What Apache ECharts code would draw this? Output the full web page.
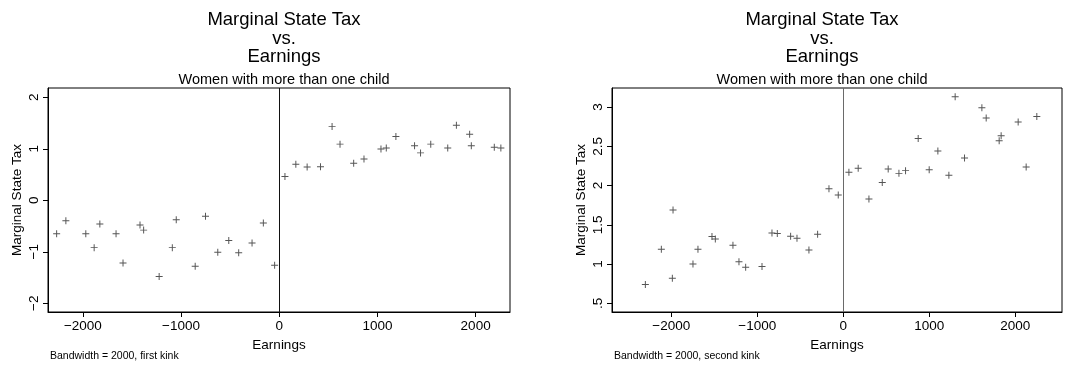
<!DOCTYPE html>
<html>
<head>
<meta charset="utf-8">
<title>Marginal State Tax vs. Earnings</title>
<script src="https://cdn.jsdelivr.net/npm/echarts@6/dist/echarts.min.js"></script>
<style>
  html, body { margin: 0; padding: 0; background: #fff; }
  #chart { width: 1066px; height: 365px; }
</style>
</head>
<body>
<div id="chart"></div>
<script>
// First kink: earnings relative to the kink and the binned marginal state tax
const firstKinkEarnings = [-2267, -2173, -1970, -1885, -1827, -1662, -1591, -1418, -1381, -1223,
  -1089, -1049, -856, -751, -626, -514, -413, -277, -162, -47,
  58, 169, 284, 420, 538, 619, 758, 863, 1036, 1090,
  1188, 1378, 1439, 1543, 1716, 1804, 1939, 1956, 2190, 2257];
const firstKinkTax = [-0.65, -0.40, -0.65, -0.92, -0.46, -0.65, -1.22, -0.48, -0.58, -1.48,
  -0.92, -0.38, -1.28, -0.31, -1.01, -0.78, -1.02, -0.83, -0.44, -1.26,
  0.46, 0.70, 0.645, 0.65, 1.43, 1.09, 0.72, 0.80, 0.995, 1.015,
  1.24, 1.06, 0.92, 1.09, 1.015, 1.455, 1.28, 1.06, 1.03, 1.015];

// Second kink
const secondKinkEarnings = [-2302, -2116, -1988, -1980, -1748, -1690, -1527, -1488, -1283, -1213,
  -1135, -945, -829, -767, -612, -538, -399, -298, -166, -58,
  66, 174, 299, 454, 523, 648, 725, 872, 1000, 1101,
  1229, 1302, 1411, 1613, 1663, 1814, 1837, 2035, 2128, 2252];
const secondKinkTax = [0.74, 1.19, 0.82, 1.69, 1.00, 1.19, 1.35, 1.32, 1.24, 1.03,
  0.96, 0.97, 1.395, 1.39, 1.355, 1.33, 1.18, 1.38, 1.96, 1.88,
  2.17, 2.22, 1.83, 2.04, 2.21, 2.155, 2.19, 2.60, 2.20, 2.44,
  2.13, 3.13, 2.35, 2.99, 2.86, 2.57, 2.635, 2.81, 2.235, 2.88];

const xTicks = [-2000, -1000, 0, 1000, 2000];
const firstYTicks = [-2, -1, 0, 1, 2];
const secondYTicks = [0.5, 1, 1.5, 2, 2.5, 3];

const titleText = 'Marginal State Tax\nvs.\nEarnings';
const subtitleText = 'Women with more than one child';
const xTitle = 'Earnings';
const yTitle = 'Marginal State Tax';
const notes = ['Bandwidth = 2000, first kink', 'Bandwidth = 2000, second kink'];

const FONT = '"Liberation Sans", Arial, Helvetica, sans-serif';
const PLUS = 'path://M0,4.3H10V5.7H0Z M4.3,0H5.7V10H4.3Z';

function zip(xs, ys) { return xs.map((x, i) => [x, ys[i]]); }
function minus(v) { return String(v).replace('-', '\u2212'); }
function shortDec(v) { return String(v).replace(/^0\./, '.'); }

const panels = [
  { grid: { left: 48, top: 88, width: 462, height: 224 },
    xMin: -2355, xMax: 2350, yMin: -2.17, yMax: 2.18,
    yTicks: firstYTicks, yFmt: v => minus(v),
    data: zip(firstKinkEarnings, firstKinkTax), refColor: '#111',
    titleX: 279, note: notes[0] },
  { grid: { left: 612, top: 88, width: 450, height: 224 },
    xMin: -2690, xMax: 2545, yMin: 0.39, yMax: 3.242,
    yTicks: secondYTicks, yFmt: v => shortDec(v),
    data: zip(secondKinkEarnings, secondKinkTax), refColor: '#6a6a6a',
    titleX: 817, note: notes[1] }
];

const option = {
  animation: false,
  backgroundColor: '#fff',
  textStyle: { fontFamily: FONT },
  title: [],
  grid: [],
  xAxis: [],
  yAxis: [],
  series: [],
  graphic: []
};

panels.forEach((p, i) => {
  option.title.push({
    text: titleText, left: p.titleX, top: 6, textAlign: 'center',
    textStyle: { fontFamily: FONT, fontSize: 18.5, fontWeight: 'normal', color: '#000', lineHeight: 18.5 }
  });
  option.title.push({
    text: subtitleText, left: p.titleX, top: 67, textAlign: 'center',
    textStyle: { fontFamily: FONT, fontSize: 14.5, fontWeight: 'normal', color: '#000' }
  });
  option.grid.push(Object.assign({ show: true, borderColor: '#000', borderWidth: 1, backgroundColor: 'transparent' }, p.grid));
  option.xAxis.push({
    type: 'value', gridIndex: i, min: p.xMin, max: p.xMax,
    axisLine: { show: true, onZero: false, lineStyle: { color: '#000', width: 1 } },
    axisTick: { show: true, length: 5, customValues: xTicks, lineStyle: { color: '#000' } },
    axisLabel: { customValues: xTicks, formatter: v => minus(v), fontSize: 13.5, color: '#000', margin: 7, fontFamily: FONT },
    splitLine: { show: false },
    name: xTitle, nameLocation: 'middle', nameGap: 22,
    nameTextStyle: { fontSize: 13.5, color: '#000', fontFamily: FONT }
  });
  option.yAxis.push({
    type: 'value', gridIndex: i, min: p.yMin, max: p.yMax,
    axisLine: { show: true, onZero: false, lineStyle: { color: '#000', width: 1 } },
    axisTick: { show: true, length: 5, customValues: p.yTicks, lineStyle: { color: '#000' } },
    axisLabel: { customValues: p.yTicks, formatter: p.yFmt, rotate: 90, fontSize: 13.5, color: '#000', margin: 7, fontFamily: FONT },
    splitLine: { show: false },
    name: yTitle, nameLocation: 'middle', nameRotate: 90, nameGap: 24,
    nameTextStyle: { fontSize: 13.5, color: '#000', fontFamily: FONT }
  });
  option.series.push({
    type: 'scatter', xAxisIndex: i, yAxisIndex: i,
    data: p.data, symbol: PLUS, symbolSize: 7,
    itemStyle: { color: '#555', opacity: 1 },
    markLine: {
      silent: true, symbol: ['none', 'none'], label: { show: false },
      lineStyle: { color: p.refColor, type: 'solid', width: 1 },
      data: [{ xAxis: 0 }]
    }
  });
  option.graphic.push({
    type: 'text', left: p.grid.left + 2, top: 351,
    style: { text: p.note, fontSize: 10.5, fill: '#000', fontFamily: FONT }
  });
});

const chart = echarts.init(document.getElementById('chart'), null, { renderer: 'canvas' });
chart.setOption(option);
</script>
</body>
</html>
